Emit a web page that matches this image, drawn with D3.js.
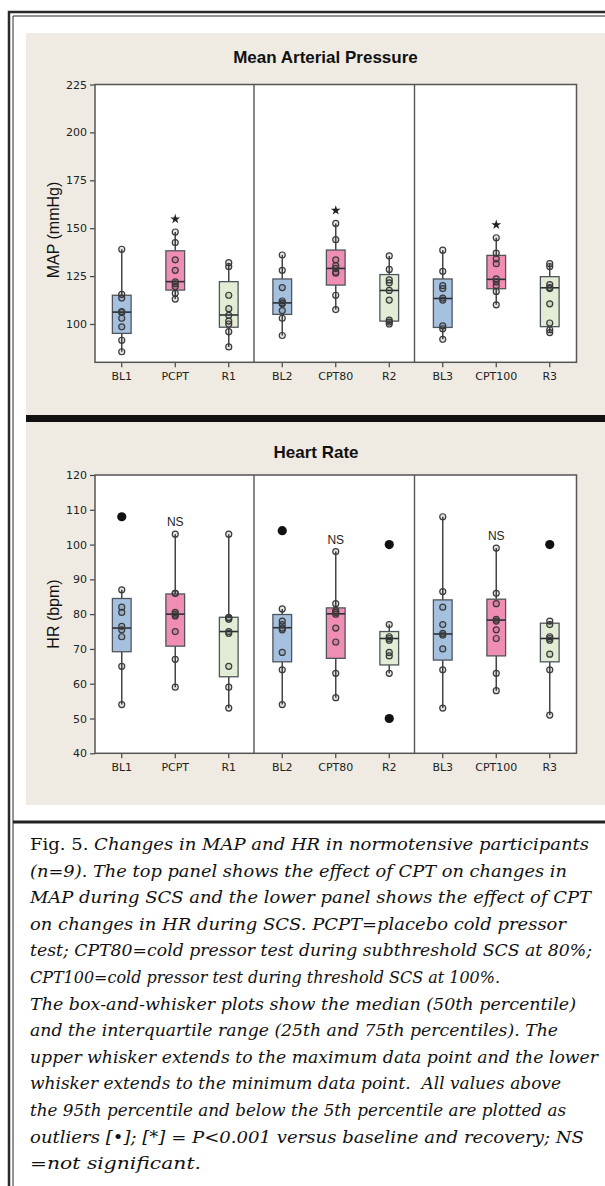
<!DOCTYPE html>
<html>
<head>
<meta charset="utf-8">
<script src="https://cdn.jsdelivr.net/npm/d3@7"></script>
<style>
  body { margin: 0; background: #fff; }
  svg { display: block; }
  .cap text { white-space: pre; }
</style>
</head>
<body>
<script>
// categories
const groups = ["BL1", "PCPT", "R1", "BL2", "CPT80", "R2", "BL3", "CPT100", "R3"];
const groupKind = ["bl", "cpt", "rec", "bl", "cpt", "rec", "bl", "cpt", "rec"];

// MAP (mmHg) -- individual values, box stats
const mapTicks = [100, 125, 150, 175, 200, 225];
const mapPoints = [
  [139, 115.5, 113.5, 106.5, 106, 103, 98.5, 91.5, 85.5],
  [148, 142.5, 133.5, 128, 122, 121, 119.5, 116, 113],
  [132, 130, 115, 108, 104.5, 101.5, 100, 96, 88],
  [136, 128, 119, 112, 111, 110.5, 107, 103, 94],
  [152.5, 144, 133.5, 130.5, 129, 127, 126.5, 115, 107.5],
  [135.5, 128.5, 123, 121.5, 117.5, 112.5, 102, 101, 100],
  [138.5, 127.5, 120, 118.5, 113.5, 112.5, 99, 97.5, 92],
  [145, 137, 134, 131.5, 123.5, 122, 120, 117, 110],
  [131.5, 130, 120.5, 119, 118.5, 110.5, 100.5, 97, 95.5]
];
const mapOutliers = [[], [], [], [], [], [], [], [], []];
const mapQ1 = [95.1, 117.7, 98.3, 105, 120.3, 101.5, 98.2, 118.4, 98.6];
const mapMedian = [106.2, 122.1, 104.7, 111, 129, 117.5, 113.3, 123.3, 118.9];
const mapQ3 = [115, 138.2, 122.1, 123.5, 138.6, 125.8, 123.5, 135.8, 124.7];
const mapMarks = ["", "*", "", "", "*", "", "", "*", ""];

// HR (bpm)
const hrTicks = [40, 50, 60, 70, 80, 90, 100, 110, 120];
const hrPoints = [
  [87, 82, 80.5, 76.5, 75.5, 73.5, 65, 54],
  [103, 86, 86, 80.5, 80, 79.5, 75, 67, 59],
  [103, 79, 79, 78.5, 75, 74.5, 65, 59, 53],
  [81.5, 78, 77, 76, 75.5, 69, 64, 54],
  [98, 83, 81, 80.5, 80, 76, 72, 63, 56],
  [77, 73.5, 73, 72.5, 69, 68, 63],
  [108, 86.5, 82, 77, 74.5, 74, 70, 64, 53],
  [99, 86, 83, 78.5, 78, 75.5, 73, 63, 58],
  [78, 77, 73.5, 73, 72.5, 68.5, 64, 51]
];
const hrOutliers = [[108], [], [], [104], [], [100, 50], [], [], [100]];
const hrQ1 = [69.2, 70.8, 62, 66.3, 67.3, 65.4, 66.8, 68, 66.3];
const hrMedian = [76, 80, 75, 76.1, 80.1, 73, 74.3, 78.3, 73];
const hrQ3 = [84.5, 85.8, 79.1, 79.9, 81.8, 75, 84.1, 84.3, 77.4];
const hrMarks = ["", "NS", "", "", "NS", "", "", "NS", ""];

const captionLines = [
  ["Fig. 5. ", "Changes in MAP and HR in normotensive participants"],
  ["", "(n=9). The top panel shows the effect of CPT on changes in"],
  ["", "MAP during SCS and the lower panel shows the effect of CPT"],
  ["", "on changes in HR during SCS. PCPT=placebo cold pressor"],
  ["", "test; CPT80=cold pressor test during subthreshold SCS at 80%;"],
  ["", "CPT100=cold pressor test during threshold SCS at 100%."],
  ["", "The box-and-whisker plots show the median (50th percentile)"],
  ["", "and the interquartile range (25th and 75th percentiles). The"],
  ["", "upper whisker extends to the maximum data point and the lower"],
  ["", "whisker extends to the minimum data point.  All values above"],
  ["", "the 95th percentile and below the 5th percentile are plotted as"],
  ["", "outliers [\u2022]; [*] = P<0.001 versus baseline and recovery; NS"],
  ["", "=not significant."]
];
// right end of each caption line in the page (layout)
const captionEnds = [589, 567, 591, 566, 592, 500, 576, 558, 598, 561, 566, 584, 201];

const kindFill = { bl: "#a6c1df", cpt: "#f08db4", rec: "#e3edd5" };
const width = 605, height = 1186;
const beige = "#efebe2";

const svg = d3.select("body").append("svg")
  .attr("width", width)
  .attr("height", height);

// page frame (double rule, cut by the right and bottom edges)
svg.append("path").attr("d", "M9,1186V12H605")
  .attr("fill", "none").attr("stroke", "#2a2a2a").attr("stroke-width", 2.5);
svg.append("path").attr("d", "M13,1186V16H605")
  .attr("fill", "none").attr("stroke", "#2a2a2a").attr("stroke-width", 1);

// beige chart backgrounds and the black bar between them
svg.append("rect").attr("x", 26).attr("y", 33).attr("width", 579).attr("height", 382).attr("fill", beige);
svg.append("rect").attr("x", 26).attr("y", 415).attr("width", 579).attr("height", 7).attr("fill", "#111");
svg.append("rect").attr("x", 26).attr("y", 422).attr("width", 579).attr("height", 383).attr("fill", beige);

// rule above caption
svg.append("line").attr("x1", 13).attr("x2", 605).attr("y1", 822).attr("y2", 822)
  .attr("stroke", "#222").attr("stroke-width", 3);

const x = d3.scaleBand().domain(groups).range([95, 576.5]).padding(0);
const boxW = x.bandwidth() * 0.35;

function drawPanel(p) {
  const y = d3.scaleLinear().domain(p.domain).range([p.bottom, p.top]);
  const g = svg.append("g");

  g.append("rect")
    .attr("x", x.range()[0]).attr("y", p.top)
    .attr("width", x.range()[1] - x.range()[0]).attr("height", p.bottom - p.top)
    .attr("fill", "#fff");

  // panel dividers
  [3, 6].forEach(i => {
    const xv = x(groups[i]) - 1.5;
    g.append("line").attr("x1", xv).attr("x2", xv).attr("y1", p.top).attr("y2", p.bottom)
      .attr("stroke", "#555").attr("stroke-width", 1.4);
  });

  const yAxis = g.append("g").attr("transform", `translate(${x.range()[0]},0)`)
    .call(d3.axisLeft(y).tickValues(p.ticks).tickSize(5).tickPadding(3));
  const xAxis = g.append("g").attr("transform", `translate(0,${p.bottom})`)
    .call(d3.axisBottom(x).tickSize(5).tickPadding(5));
  [yAxis, xAxis].forEach(a => {
    a.select(".domain").remove();
    a.selectAll(".tick line").attr("stroke", "#444").attr("stroke-width", 1.2);
    a.selectAll(".tick text").attr("fill", "#222")
      .style("font-family", "'DejaVu Sans', sans-serif").style("font-size", "11px");
  });

  g.append("rect")
    .attr("x", x.range()[0]).attr("y", p.top)
    .attr("width", x.range()[1] - x.range()[0]).attr("height", p.bottom - p.top)
    .attr("fill", "none").attr("stroke", "#555").attr("stroke-width", 1.5);

  groups.forEach((name, i) => {
    const cx = x(name) + x.bandwidth() / 2;
    const pts = p.points[i];
    const hi = d3.max(pts), lo = d3.min(pts);
    const gg = g.append("g");

    // whiskers
    gg.append("line").attr("x1", cx).attr("x2", cx).attr("y1", y(p.q3[i])).attr("y2", y(hi))
      .attr("stroke", "#444").attr("stroke-width", 1.5);
    gg.append("line").attr("x1", cx).attr("x2", cx).attr("y1", y(p.q1[i])).attr("y2", y(lo))
      .attr("stroke", "#444").attr("stroke-width", 1.5);

    gg.append("rect")
      .attr("x", cx - boxW / 2).attr("y", y(p.q3[i]))
      .attr("width", boxW).attr("height", y(p.q1[i]) - y(p.q3[i]))
      .attr("fill", kindFill[groupKind[i]])
      .attr("stroke", "#4f555c").attr("stroke-width", 1.3);
    gg.append("line")
      .attr("x1", cx - boxW / 2).attr("x2", cx + boxW / 2)
      .attr("y1", y(p.median[i])).attr("y2", y(p.median[i]))
      .attr("stroke", "#2b2f35").attr("stroke-width", 1.6);

    gg.selectAll("circle.pt").data(pts).join("circle")
      .attr("class", "pt")
      .attr("cx", cx).attr("cy", d => y(d)).attr("r", 3)
      .attr("fill", "#222").attr("fill-opacity", 0.12)
      .attr("stroke", "#3a3a3a").attr("stroke-width", 1.2);

    gg.selectAll("circle.out").data(p.outliers[i]).join("circle")
      .attr("class", "out")
      .attr("cx", cx).attr("cy", d => y(d)).attr("r", 4.6)
      .attr("fill", "#111");

    const mark = p.marks[i];
    if (mark === "*") {
      gg.append("path")
        .attr("d", d3.symbol(d3.symbolStar).size(30)())
        .attr("transform", `translate(${cx},${y(hi) - 13})`)
        .attr("fill", "#222");
    } else if (mark) {
      gg.append("text")
        .attr("x", cx).attr("y", y(hi) - 12).attr("dy", "0.36em")
        .attr("text-anchor", "middle")
        .style("font-family", "'Liberation Sans', Arial, sans-serif")
        .style("font-size", "12px").attr("fill", "#222")
        .text(mark);
    }
  });

  svg.append("text")
    .attr("x", p.titleX).attr("y", p.titleY).attr("dy", "0.36em")
    .attr("text-anchor", "middle")
    .style("font-family", "'Liberation Sans', Arial, sans-serif")
    .style("font-size", "17px").style("font-weight", "bold").attr("fill", "#111")
    .text(p.title);

  svg.append("text")
    .attr("transform", `translate(53,${p.labelY}) rotate(-90)`)
    .attr("dy", "0.36em")
    .attr("text-anchor", "middle")
    .style("font-family", "'Liberation Sans', Arial, sans-serif")
    .style("font-size", "16px").attr("fill", "#111")
    .text(p.label);
}

drawPanel({
  top: 84.5, bottom: 362.3, domain: [80, 225], ticks: mapTicks,
  points: mapPoints, outliers: mapOutliers, q1: mapQ1, median: mapMedian, q3: mapQ3, marks: mapMarks,
  title: "Mean Arterial Pressure", titleX: 325.5, titleY: 57,
  label: "MAP (mmHg)", labelY: 230
});

drawPanel({
  top: 475, bottom: 753.3, domain: [40, 120], ticks: hrTicks,
  points: hrPoints, outliers: hrOutliers, q1: hrQ1, median: hrMedian, q3: hrQ3, marks: hrMarks,
  title: "Heart Rate", titleX: 316, titleY: 451.7,
  label: "HR (bpm)", labelY: 614
});

// caption
const cap = svg.append("g")
  .attr("class", "cap")
  .style("font-family", "'DejaVu Serif', serif")
  .style("font-size", "17px")
  .attr("fill", "#111");
captionLines.forEach((ln, i) => {
  const t = cap.append("text").attr("x", 30).attr("y", 850 + i * 26.6)
    .attr("textLength", captionEnds[i] - 30)
    .attr("lengthAdjust", "spacingAndGlyphs");
  if (ln[0]) t.append("tspan").text(ln[0]);
  t.append("tspan").style("font-style", "italic").text(ln[1]);
});
</script>
</body>
</html>
